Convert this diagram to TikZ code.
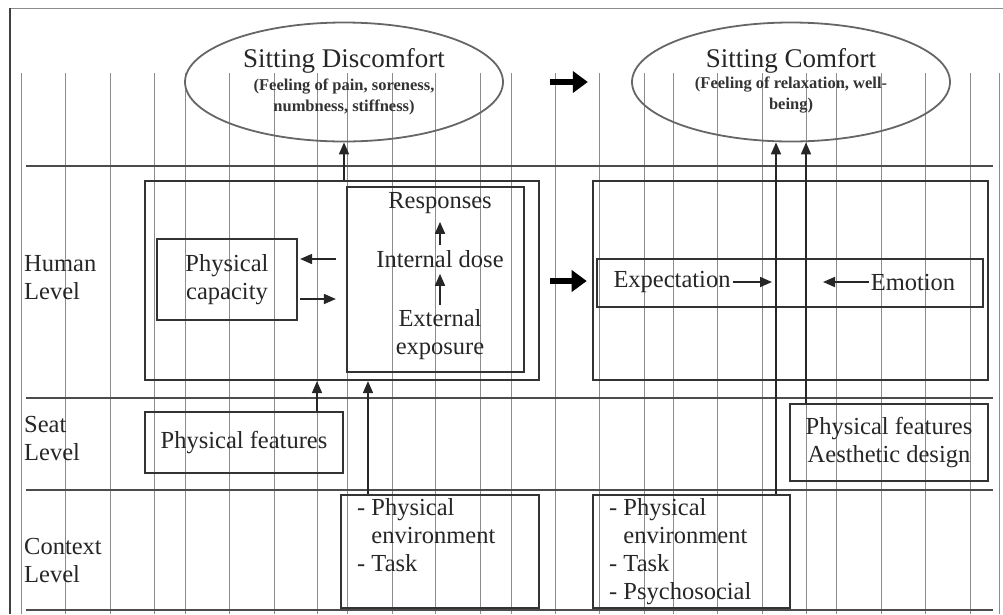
\documentclass[tikz,border=0pt]{standalone}
\usepackage{fontspec}
\setmainfont{Liberation Serif}
\usetikzlibrary{arrows.meta,shapes.geometric,calc}
\begin{document}
\begin{tikzpicture}[x=1pt,y=-1pt,
  gridline/.style={draw=black!45,line width=0.8pt},
  levelline/.style={draw=black!70,line width=2.8pt},
  box/.style={draw=black!80,line width=2.2pt,rectangle,inner sep=0pt},
  cloud/.style={ellipse,draw=black!60,line width=1.8pt,inner sep=0pt,
    minimum width=318pt,minimum height=119pt},
  txt/.style={font=\fontsize{24.5}{28}\selectfont,text=black!85,inner sep=2pt},
  title/.style={font=\fontsize{27}{30}\selectfont,text=black!85},
  sub/.style={font=\fontsize{16.5}{21}\selectfont\bfseries,text=black!80,align=center},
  arr/.style={draw=black!85,line width=1.7pt,-{Triangle[length=12pt,width=10pt]}},
  bigarr/.style={draw=black,line width=6pt,-{Triangle[length=15pt,width=21pt]}}
]
\useasboundingbox (0,0) rectangle (1003,614);

% column grid
\foreach \gx in {65,110,154,185,229,274,317,347,392,435,480,511,555,599,644,673,717,762,806,836,881,925,970}
  \draw[gridline] (\gx,73) -- (\gx,614);
\draw[gridline] (10,8) -- (1003,8);
\draw[gridline] (21,73) -- (21,614);
\draw[gridline] (999,73) -- (999,614);
\draw[draw=black!75,line width=2pt] (10,8) -- (10,614);

% level separators
\foreach \ly in {166,398,490,610}
  \draw[levelline] (26,\ly) -- (993,\ly);

% level labels
\node[txt,anchor=west,align=left] (lvH) at (22,278) {Human\\Level};
\node[txt,anchor=west,align=left] (lvS) at (22,438) {Seat\\Level};
\node[txt,anchor=west,align=left] (lvC) at (22,560) {Context\\Level};

% outcome ellipses
\node[cloud] (sd) at (344,82) {};
\node[title] (sdT) at (344,61) {Sitting Discomfort};
\node[sub] (sdS) at (344,97) {(Feeling of pain, soreness,\\numbness, stiffness)};
\node[cloud] (sc) at (791,82) {};
\node[title] (scT) at (791,61) {Sitting Comfort};
\node[sub] (scS) at (791,95) {(Feeling of relaxation, well-\\being)};

% human level, discomfort side
\node[box,minimum width=394pt,minimum height=199pt] (hl) at (342,280.5) {};
\node[box,minimum width=177pt,minimum height=185pt] (inner) at (435.5,279.5) {};
\node[box,minimum width=140pt,minimum height=81pt,txt,align=center] (pc) at (227,279.5) {Physical\\capacity};
\node[txt] (resp) at (440,203) {Responses};
\node[txt] (dose) at (440,259) {Internal dose};
\node[txt,align=center] (ext) at (440,335) {External\\exposure};
\draw[arr,shorten <=3pt,shorten >=6pt] (dose.north) -- (resp.south);
\draw[arr,shorten <=3pt,shorten >=4pt] (ext.north) -- (dose.south);
\coordinate (yL) at (0,259);
\coordinate (yR) at (0,299);
\draw[arr,shorten <=10pt,shorten >=2pt] (inner.west |- yL) -- (pc.east |- yL);
\draw[arr,shorten <=2pt,shorten >=10pt] (pc.east |- yR) -- (inner.west |- yR);

% human level, comfort side
\node[box,minimum width=395pt,minimum height=199pt] (hr) at (790.5,280.5) {};
\node[box,minimum width=386pt,minimum height=48pt,line width=1.8pt] (band) at (790,283) {};
\node[txt] (exp) at (672,282) {Expectation};
\node[txt] (emo) at (913,282) {Emotion};
\coordinate (expEnd) at (772,282);
\coordinate (emoEnd) at (823,282);
\draw[arr] (exp.east) -- (expEnd);
\draw[arr] (emo.west) -- (emoEnd);

% transitions between the two sides
\draw[bigarr] ($(sd.east)!0.36!(sc.west)$) -- ($(sd.east)!0.66!(sc.west)$);
\draw[bigarr] ($(hl.east |- 0,281)!0.2!(hr.west |- 0,281)$) -- ($(hl.east |- 0,281)!0.9!(hr.west |- 0,281)$);

% seat level
\node[box,minimum width=198pt,minimum height=61pt,txt] (seatL) at (244,442.5) {Physical features};
\node[box,minimum width=198pt,minimum height=77pt,txt,align=center] (seatR) at (889,442.5) {Physical features\\Aesthetic design};

% context level
\node[box,minimum width=198pt,minimum height=113pt] (ctxL) at (440,551.5) {};
\node[txt,anchor=north west,align=left] (ctxLt) at (355,496) {- Physical\\\phantom{- }environment\\- Task};
\node[box,minimum width=197pt,minimum height=113pt] (ctxR) at (691.5,551.5) {};
\node[txt,anchor=north west,align=left] (ctxRt) at (607,496) {- Physical\\\phantom{- }environment\\- Task\\- Psychosocial};

% influences
\coordinate (sA) at (317,0);
\coordinate (cA) at (368,0);
\draw[arr] (seatL.north -| sA) -- (hl.south -| sA);
\draw[arr] (ctxL.north -| cA) -- (hl.south -| cA);
\draw[arr] (sd.south |- hl.north) -- (sd.south);
\coordinate (kA) at ($(sc.south)+(-15,0)$);
\coordinate (kB) at ($(sc.south)+(15,0)$);
\draw[arr] (ctxR.north -| kA) -- (kA);
\draw[arr] (seatR.north -| kB) -- (kB);
\end{tikzpicture}
\end{document}
